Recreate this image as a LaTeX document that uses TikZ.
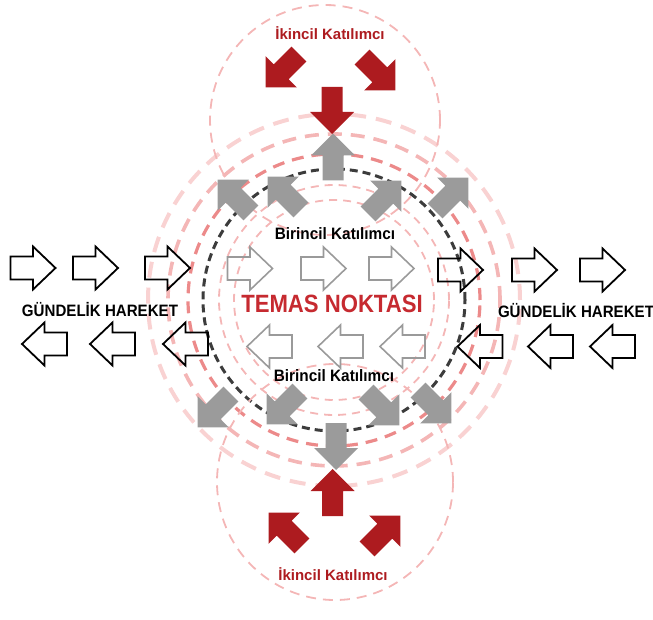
\documentclass[tikz,border=0pt]{standalone}
\usepackage{fontspec}
\setmainfont{Liberation Sans}
\usetikzlibrary{positioning}
\definecolor{kred}{HTML}{AD1B1F}
\definecolor{tred}{HTML}{C62A30}
\definecolor{agray}{HTML}{9B9B9B}
\definecolor{ogray}{HTML}{9A9A9A}
\definecolor{ringgray}{HTML}{3C3C3C}
\definecolor{pinkA}{HTML}{EC8A8A}
\definecolor{pinkB}{HTML}{F4B6B6}
\definecolor{pinkC}{HTML}{F9D2D2}
\tikzset{
	solidarr/.pic={
		\fill[pic actions] (-23.5,-10.5) -- (1.5,-10.5) -- (1.5,-22) -- (23.5,0) -- (1.5,22) -- (1.5,10.5) -- (-23.5,10.5) -- cycle;
		\coordinate (-c) at (0,0);
	},
	hollowarr/.pic={
		\draw[pic actions] (-22.5,-11.5) -- (0,-11.5) -- (0,-21.5) -- (22.5,0) -- (0,21.5) -- (0,11.5) -- (-22.5,11.5) -- cycle;
		\coordinate (-c) at (0,0);
	},
	redarr/.style={fill=kred},
	grayarr/.style={fill=agray},
	blackout/.style={draw=black,line width=1.8pt},
	grayout/.style={draw=ogray,line width=1.6pt},
	blackring/.style={draw=ringgray,line width=3pt,dash pattern=on 8pt off 5pt},
	redring/.style={draw=pinkA,line width=3.2pt,dash pattern=on 12pt off 8pt},
	palering/.style={draw=pinkB,line width=3.6pt,dash pattern=on 14pt off 9pt},
	faintring/.style={draw=pinkC,line width=4pt,dash pattern=on 16pt off 10pt},
	thinring/.style={draw=pinkB,line width=1.8pt,dash pattern=on 8pt off 6pt},
	lbl/.style={inner sep=0pt,anchor=base,font=\bfseries\fontsize{15}{15}\selectfont}
}

\begin{document}
\begin{tikzpicture}[x=1pt,y=1pt]
	\useasboundingbox (0,0) rectangle (653,619);
	\coordinate (ctr) at (334,319);
	\coordinate (topc) at (325,499);
	\coordinate (botc) at (335,137);

	% rings round the contact point
	\draw[faintring] (ctr) circle[radius=186];
	\draw[palering] (ctr) circle[radius=166];
	\draw[redring] (ctr) circle[radius=146];
	\draw[thinring] (ctr) circle[radius=115];
	\draw[thinring] (ctr) circle[radius=100];
	\draw[blackring] (ctr) circle[radius=131];
	\draw[thinring,dash pattern=on 10pt off 7pt] (topc) circle[radius=115];
	\draw[thinring,dash pattern=on 10pt off 7pt] (botc) circle[radius=118];

	% everyday movement
	\pic[blackout] (lt1) at (33,351) {hollowarr};
	\pic[blackout] (lt2) at (95.5,351) {hollowarr};
	\pic[blackout] (lt3) at (167.5,351) {hollowarr};
	\pic[grayout] (mt1) at (250,350.5) {hollowarr};
	\pic[grayout] (mt2) at (323.5,350.5) {hollowarr};
	\pic[grayout] (mt3) at (391.5,350.5) {hollowarr};
	\pic[blackout] (rt1) at (460.5,349) {hollowarr};
	\pic[blackout] (rt2) at (534.5,349) {hollowarr};
	\pic[blackout] (rt3) at (602.5,349) {hollowarr};
	\pic[blackout,rotate=180] (lb1) at (44.5,275) {hollowarr};
	\pic[blackout,rotate=180] (lb2) at (112.5,275) {hollowarr};
	\pic[blackout,rotate=180] (lb3) at (185.5,275) {hollowarr};
	\pic[grayout,rotate=180] (mb1) at (269.5,272.5) {hollowarr};
	\pic[grayout,rotate=180] (mb2) at (340.5,272.5) {hollowarr};
	\pic[grayout,rotate=180] (mb3) at (402.5,272.5) {hollowarr};
	\pic[blackout,rotate=180] (rb1) at (480,272.5) {hollowarr};
	\pic[blackout,rotate=180] (rb2) at (550.5,272.5) {hollowarr};
	\pic[blackout,rotate=180] (rb3) at (612.5,272.5) {hollowarr};

	% primary participants
	\pic[grayarr,rotate=90] (gn) at (333,462) {solidarr};
	\pic[grayarr,rotate=-90] (gs) at (336,172.5) {solidarr};
	\pic[grayarr,rotate=135] (gnw1) at (234.3,422.7) {solidarr};
	\pic[grayarr,rotate=135] (gnw2) at (284.3,425.7) {solidarr};
	\pic[grayarr,rotate=45] (gne1) at (384.7,421.7) {solidarr};
	\pic[grayarr,rotate=45] (gne2) at (451.7,424.7) {solidarr};
	\pic[grayarr,rotate=-135] (gsw1) at (214.3,208.3) {solidarr};
	\pic[grayarr,rotate=-135] (gsw2) at (283.3,211.3) {solidarr};
	\pic[grayarr,rotate=-45] (gse1) at (382.7,210.3) {solidarr};
	\pic[grayarr,rotate=-45] (gse2) at (434.7,212.3) {solidarr};

	% secondary participants
	\pic[redarr,rotate=-90] (rn) at (332,508.5) {solidarr};
	\pic[redarr,rotate=-135] (rnw) at (282.3,548.3) {solidarr};
	\pic[redarr,rotate=-45] (rne) at (378.7,545.3) {solidarr};
	\pic[redarr,rotate=90] (rs) at (332.5,126.5) {solidarr};
	\pic[redarr,rotate=135] (rsw) at (285.3,89.7) {solidarr};
	\pic[redarr,rotate=45] (rse) at (383.7,86.7) {solidarr};

	% labels
	\node[lbl,text=tred,font=\bfseries\fontsize{25}{25}\selectfont,xscale=.885] (temas) at (332,306) {TEMAS NOKTASI};
	\node[lbl,xscale=.93,font=\bfseries\fontsize{16.5}{16.5}\selectfont] (bir1) at (335,379) {Birincil Katılımcı};
	\node[lbl,xscale=.93,font=\bfseries\fontsize{16.5}{16.5}\selectfont] (bir2) at (334,237) {Birincil Katılımcı};
	\node[lbl,text=kred] (iki1) at (330,579) {İkincil Katılımcı};
	\node[lbl,text=kred] (iki2) at (333,39) {İkincil Katılımcı};
	\node[lbl,xscale=.915,font=\bfseries\fontsize{16.5}{16.5}\selectfont] (gun1) at (100,302) {GÜNDELİK HAREKET};
	\node[lbl,xscale=.915,font=\bfseries\fontsize{16.5}{16.5}\selectfont] (gun2) at (576,301) {GÜNDELİK HAREKET};
\end{tikzpicture}
\end{document}
